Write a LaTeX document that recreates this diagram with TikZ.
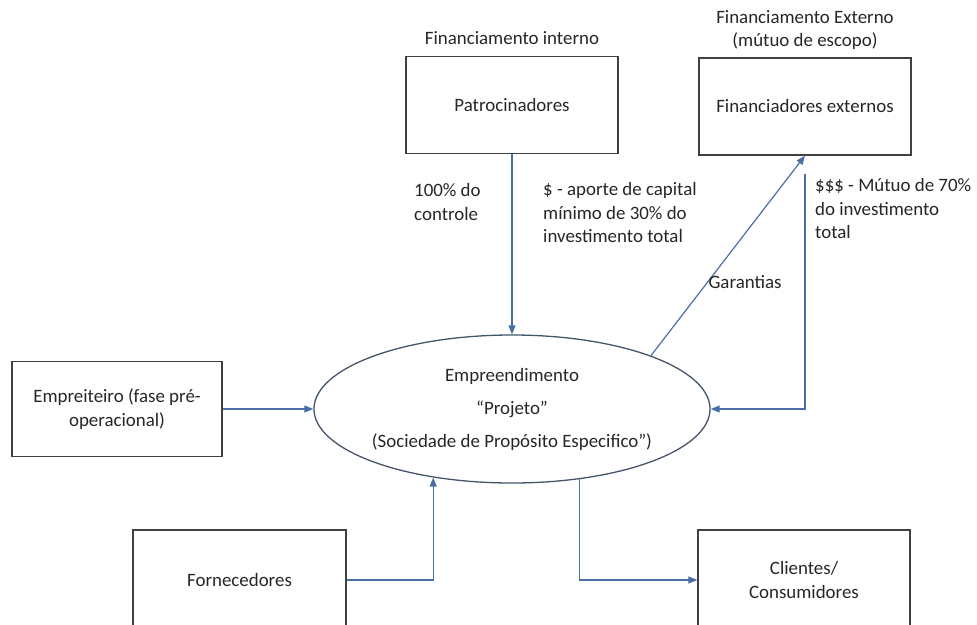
\documentclass[tikz,border=0pt]{standalone}
\usepackage{fontspec}
\setmainfont{Carlito}
\usetikzlibrary{arrows.meta,positioning,shapes.geometric}
\definecolor{linkblue}{HTML}{4A6FA5}
\definecolor{rim}{HTML}{404040}
\definecolor{ovalrim}{HTML}{44546A}
\definecolor{ink}{HTML}{262626}
\begin{document}
\begin{tikzpicture}[x=1pt,y=-1pt,font=\fontsize{18.9}{23.5}\selectfont,text=ink,
  party/.style={draw=rim,line width=1.3pt,minimum width=212pt,minimum height=97pt,inner sep=0pt,align=center},
  link/.style={-{Triangle[length=9pt,width=7pt]},line width=1.2pt,draw=linkblue},
  note/.style={align=left,inner sep=0pt,anchor=west}]
\useasboundingbox (0,0) rectangle (977,624);
\node[party] (patro) at (512,105) {Patrocinadores};
\node[party] (finext) at (805,106.5) {Financiadores externos};
\node[party,minimum width=210pt,minimum height=95pt] (empre) at (117,409) {Empreiteiro (fase pré-\\operacional)};
\node[party,minimum width=213pt,minimum height=100pt] (fornec) at (239.5,580) {Fornecedores};
\node[party,minimum height=100pt] (clientes) at (804,580) {Clientes/\\Consumidores};
\node[ellipse,draw=ovalrim,line width=1.3pt,minimum width=375pt,minimum height=148pt,inner sep=0pt,align=center,
  font=\fontsize{18.9}{33}\selectfont] (proj) at (512,409) {Empreendimento\\“Projeto”\\(Sociedade de Propósito Especifico”)};
% titulos
\node (tint) at (512,38) {Financiamento interno};
\node[align=center] (text) at (805,30) {Financiamento Externo\\(mútuo de escopo)};
% fluxos
\draw[link] (patro) -- (proj);
\draw[link] (empre) -- (proj);
\draw[link] (fornec.east) -| (proj.221);
\draw[link] (proj.314) |- (clientes.west);
\draw[link] (proj.21) -- node[note,pos=.37]{Garantias} (finext.south);
\coordinate (mutuo) at ([yshift=-18pt]finext.south);
\draw[link] (mutuo) |- (proj.east);
% rotulos
\node[note] (ctrl) at (414,202) {100\% do\\controle};
\node[note] (aporte) at (543,213) {\$ - aporte de capital\\mínimo de 30\% do\\investimento total};
\node[note] (emprest) at (815,209) {\$\$\$ - Mútuo de 70\%\\do investimento\\total};
\end{tikzpicture}
\end{document}
